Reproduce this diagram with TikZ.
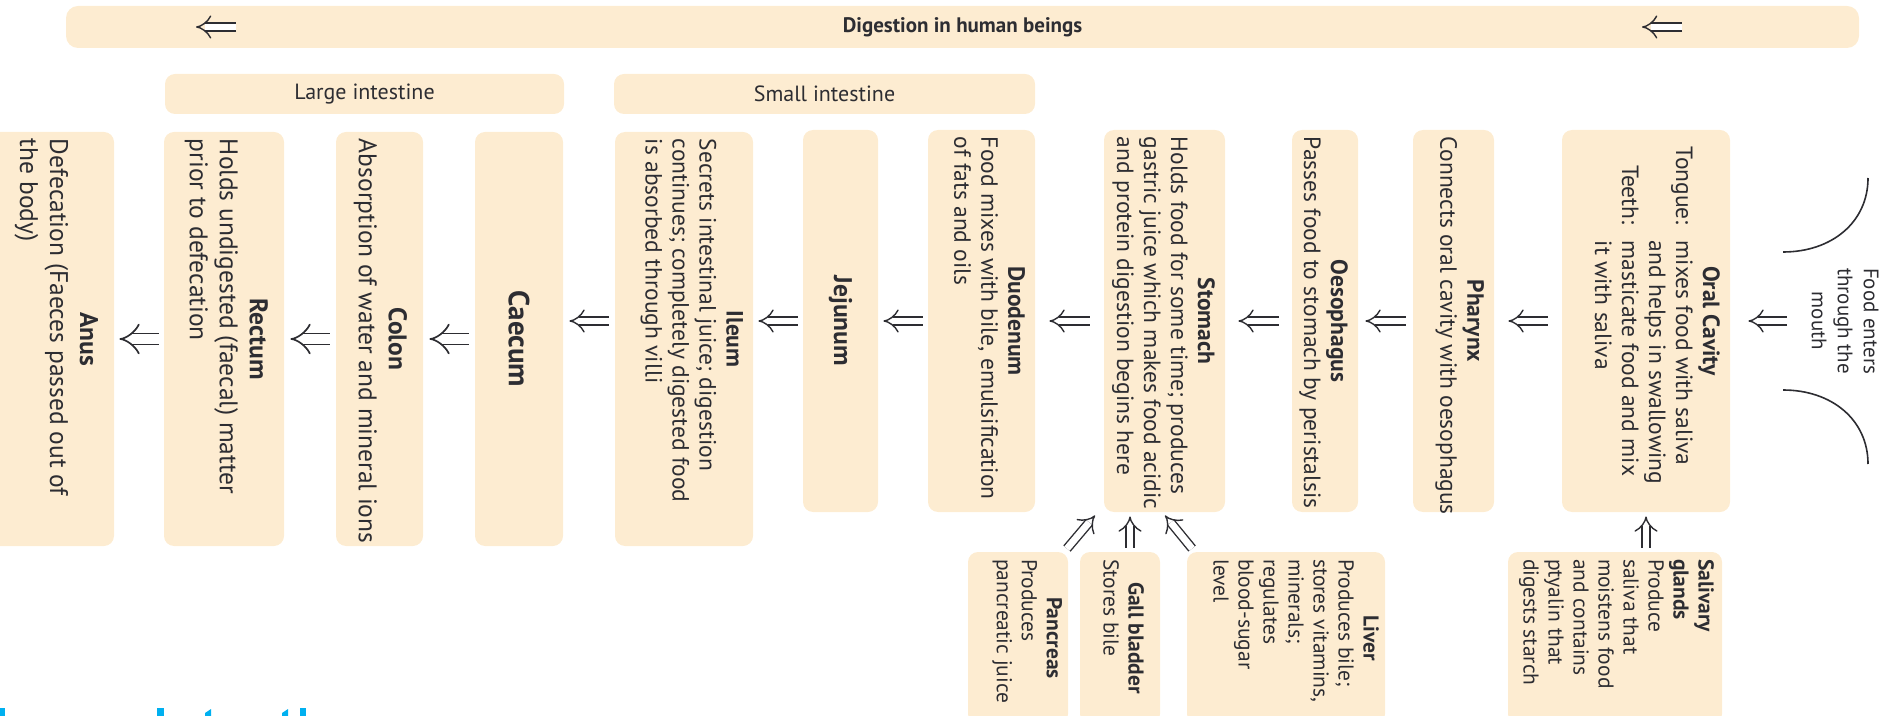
\documentclass[tikz,border=0pt]{standalone}
\usepackage{fontspec}
\setmainfont{PT Sans}
\usetikzlibrary{arrows.meta,calc}
\definecolor{boxfill}{RGB}{253,236,209}
\definecolor{ink}{RGB}{45,45,50}
\definecolor{headblue}{RGB}{0,176,240}
\tikzset{
  organ/.style={rotate=-90, fill=boxfill, rounded corners=5pt, inner xsep=3.5pt, inner ysep=5pt, text=ink, font=\fontsize{11.75}{13.5}\selectfont},
  largetext/.style={font=\fontsize{12.75}{15}\selectfont},
  hugetext/.style={font=\fontsize{14.5}{16}\selectfont},
  gland/.style={organ, inner ysep=3pt, font=\fontsize{10.75}{12.5}\selectfont},
  flow/.style={draw=ink, line width=0.7pt, double, double distance=3.4pt, -{Implies}},
  bigflow/.style={draw=ink, line width=0.85pt, double, double distance=4.6pt, -{Implies}, shorten <=#1, shorten >=#1},
  gapflow/.style={flow, shorten <=#1, shorten >=#1},
  tagbox/.style={fill=boxfill, rounded corners=5pt, text=ink, font=\fontsize{11}{12}\selectfont, inner sep=0pt},
  bannerbox/.style={fill=boxfill, rounded corners=6pt, text=ink, font=\bfseries\fontsize{10.5}{12}\selectfont, inner sep=0pt},
  mouthtext/.style={rotate=-90, align=center, text=ink, font=\fontsize{10.5}{13}\selectfont},
  lip/.style={draw=ink, line width=0.8pt},
}
\newcommand\organ[8][]{\node[organ,#1] (#2) at (#3,#4) {\parbox[c][\dimexpr #5pt/2-10pt\relax][#7]{\dimexpr #6pt/2-7pt\relax}{#8}};}
\newcommand\gland[7]{\node[gland] (#1) at (#2,#3) {\parbox[c][\dimexpr #4pt/2-6pt\relax][#6]{\dimexpr #5pt/2-7pt\relax}{#7}};}
\newcommand\ttl[1]{{\centering\textbf{#1}\par}\raggedright}
\newcommand\bd[1]{\begin{tabular}[t]{@{}l@{}}#1\end{tabular}}
\begin{document}
\begin{tikzpicture}[x=0.5pt,y=-0.5pt]
\useasboundingbox (0,0) rectangle (1883,716);
% banner
\node[bannerbox, minimum width=896.5pt, minimum height=21pt] (banner) at (962.5,27) {Digestion in human beings};
\coordinate (bl1) at (236,27); \coordinate (bl2) at (196,27);
\draw[flow] (bl1) -- (bl2);
\coordinate (br1) at (1682,27); \coordinate (br2) at (1642,27);
\draw[flow] (br1) -- (br2);
% group labels
\node[tagbox, minimum width=199.5pt, minimum height=20pt] (large) at (364.5,94) {Large intestine};
\node[tagbox, minimum width=210.5pt, minimum height=20pt] (small) at (824.5,94) {Small intestine};
% main organs
\organ[largetext]{anus}{52}{339}{124}{414}{t}{\vspace*{3pt}\ttl{Anus}\bd{Defecation (Faeces passed out of\\the body)}}
\organ[largetext]{rectum}{224}{339}{120}{414}{t}{\vspace*{3pt}\ttl{Rectum}\bd{Holds undigested (faecal) matter\\prior to defecation}}
\organ[largetext]{colon}{379.5}{339}{87}{414}{t}{\vspace*{3pt}\ttl{Colon}\bd{Absorption of water and mineral ions}}
\organ[hugetext]{caecum}{519}{339}{88}{414}{c}{\centering\textbf{Caecum}}
\organ{ileum}{684}{339}{138}{414}{t}{\ttl{Ileum}\bd{Secrets intestinal juice; digestion\\continues; completely digested food\\is absorbed through villi}}
\organ[largetext]{jejunum}{840.5}{321}{75}{382}{c}{\centering\textbf{Jejunum}}
\organ{duodenum}{981.5}{321}{107}{382}{t}{\ttl{Duodenum}\bd{Food mixes with bile, emulsification\\of fats and oils}}
\organ{stomach}{1164.5}{321}{121}{382}{t}{\ttl{Stomach}\bd{Holds food for some time; produces\\gastric juice which makes food acidic\\and protein digestion begins here}}
\organ{oeso}{1325}{321}{66}{382}{t}{\ttl{Oesophagus}\bd{Passes food to stomach by peristalsis}}
\organ{pharynx}{1453.5}{321}{81}{382}{t}{\ttl{Pharynx}\bd{Connects oral cavity with oesophagus}}
\organ{oral}{1646}{321}{168}{382}{t}{\ttl{Oral Cavity}\begin{tabular}[t]{@{\hspace{5pt}}r@{\hspace{8pt}}l@{}}Tongue: & mixes food with saliva\\ & and helps in swallowing\\ Teeth: & masticate food and mix\\ & it with saliva\end{tabular}}
% glands
\gland{pancreas}{1018}{638}{100}{172}{t}{\ttl{Pancreas}\bd{Produces\\pancreatic juice}}
\gland{gall}{1120}{638}{80}{172}{c}{\ttl{Gall bladder}\bd{Stores bile}}
\gland{liver}{1286}{638}{198}{172}{t}{\ttl{Liver}\bd{Produces bile;\\stores vitamins,\\minerals;\\regulates\\blood-sugar\\level}}
\gland{saliva}{1615}{638}{214}{172}{t}{\raggedright\bd{\textbf{Salivary}\\\textbf{glands}\\Produce\\saliva that\\moistens food\\and contains\\ptyalin that\\digests starch}}
% flow arrows
\draw[bigflow=2.5pt] (rectum.south) -- (anus.north);
\draw[bigflow=3pt] (colon.south) -- (rectum.north);
\draw[bigflow=3pt] (caecum.south) -- (colon.north);
\draw[gapflow=3pt] (ileum.south |- jejunum.south) -- (caecum.north |- jejunum.south);
\draw[gapflow=2.5pt] (jejunum.south) -- (jejunum.south -| ileum.north);
\draw[gapflow=2.5pt] (duodenum.south) -- (jejunum.north);
\draw[gapflow=7pt] (stomach.south) -- (duodenum.north);
\draw[gapflow=6.5pt] (oeso.south) -- (stomach.north);
\draw[gapflow=3.5pt] (pharynx.south) -- (oeso.north);
\draw[gapflow=7pt] (oral.south) -- (pharynx.north);
\coordinate (mouth) at (1787,321);
\draw[flow, shorten >=9pt] (mouth) -- (oral.north);
% gland arrows
\draw[flow, shorten <=2pt, shorten >=2pt] ($(pancreas.north west)+(-4,0)$) -- ($(stomach.south east)+(-6,0)$);
\draw[flow, shorten <=2pt, shorten >=2pt] ($(gall.west)+(10,0)$) coordinate (g0) -- (g0 |- stomach.east);
\draw[flow, shorten <=2pt, shorten >=2pt] ($(liver.south west)+(8,0)$) -- ($(stomach.east)+(-2,0)$);
\draw[flow, shorten <=2pt, shorten >=2pt] (oral.east |- saliva.west) -- (oral.east);
% mouth
\draw[lip] (1868,178) .. controls (1868,222) and (1832,252) .. (1783,252);
\draw[lip] (1783,390) .. controls (1832,390) and (1868,420) .. (1868,464);
\node[mouthtext] (mouthtxt) at (1845,321) {Food enters\\through the\\mouth};
% cut-off heading fragments
\fill[headblue] (0,708) rectangle (5,716);
\fill[headblue] (157,708) rectangle (164,716);
\fill[headblue] (205,713) -- (211,709) -- (211,716) -- (205,716) -- cycle;
\fill[headblue] (282,713) -- (288,709) -- (288,716) -- (282,716) -- cycle;
\fill[headblue] (300,708) rectangle (306,716);
\end{tikzpicture}
\end{document}
